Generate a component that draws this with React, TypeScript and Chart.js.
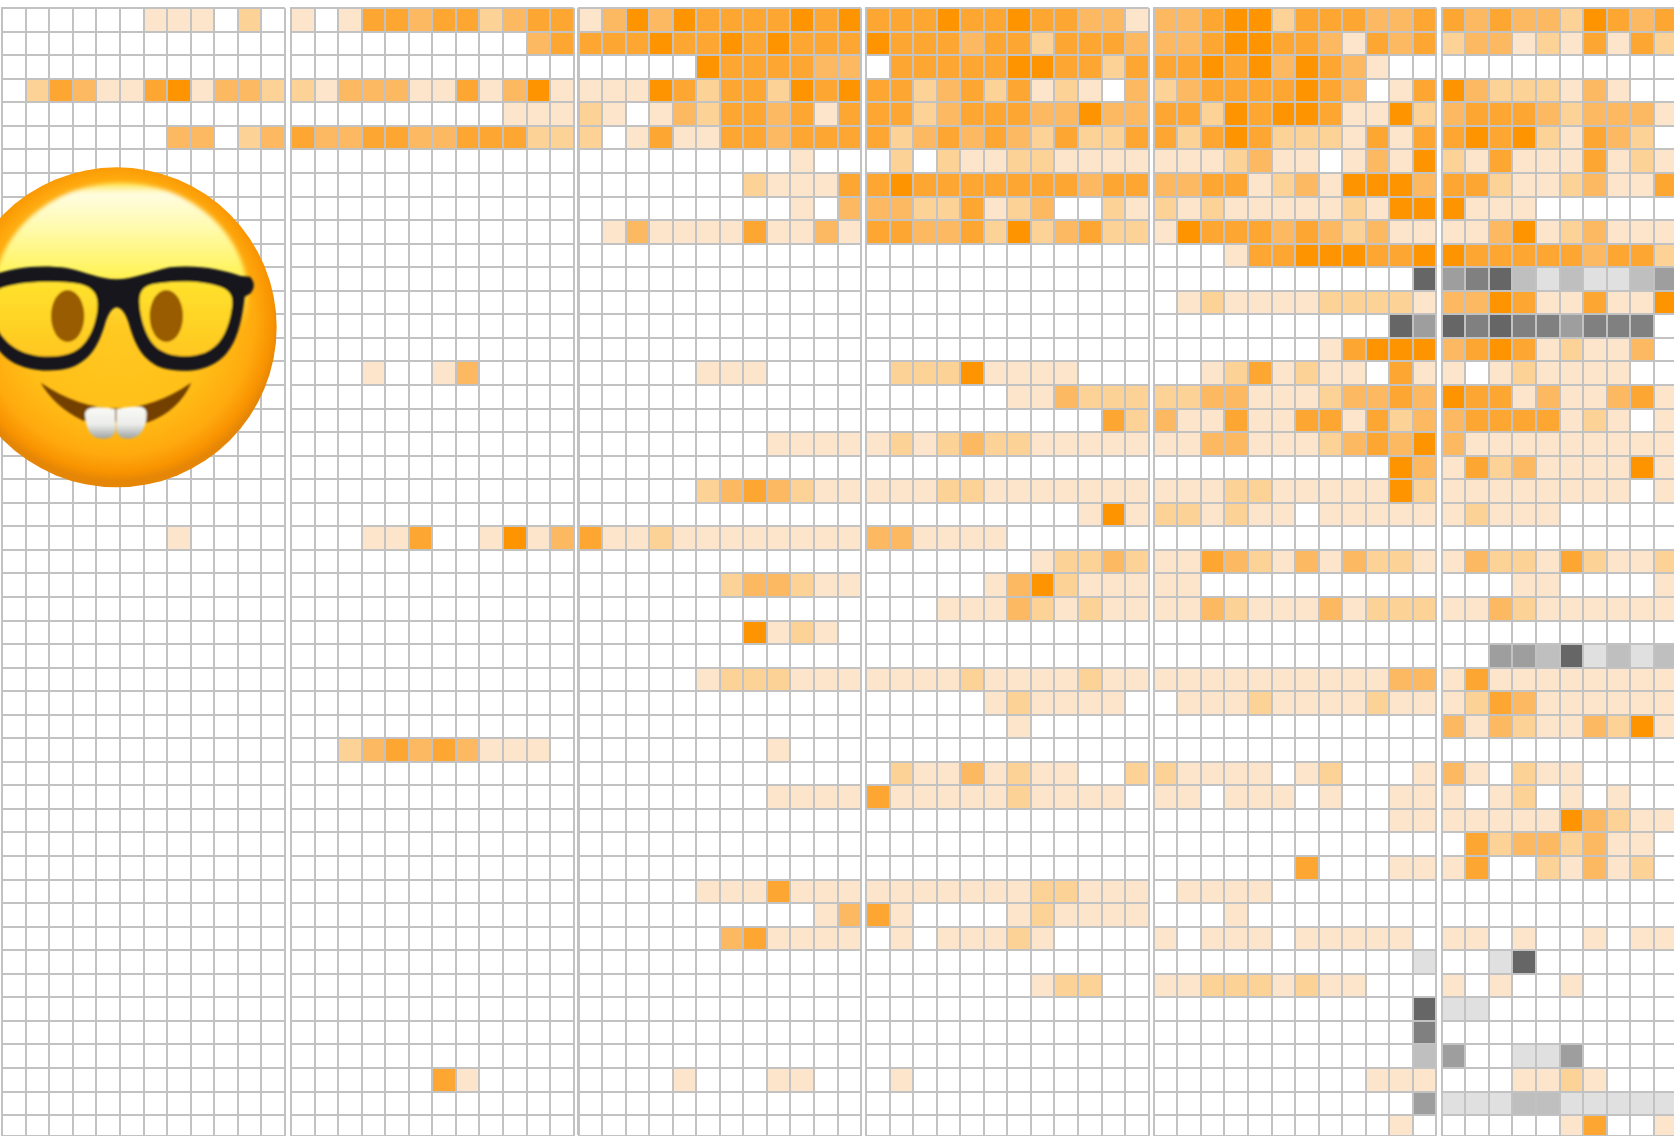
import React, { useEffect, useRef } from "react";
import { Chart, registerables } from "chart.js";

Chart.register(...registerables);

const months = ["M1", "M2", "M3", "M4", "M5", "M6", "M7", "M8", "M9", "M10", "M11", "M12"];

const panel1 = [
  "......111.2.", "............", "............", ".24311451332", "............", ".......33.23",
  "............", "............", "............", "............", "............", "............",
  "............", "............", "............", "............", "............", "............",
  "............", "............", "............", "............", ".......1....",
];
const panel2 = [
  "1.1443442344", "..........34", "............", "213331141351", ".........111", "433443344422",
  "............", "............", "............", "............", "............", "............",
  "............", "............", "............", "...1..13....", "............", "............",
  "............", "............", "............", "............", "...114..1513", "............",
  "............", "............", "............", "............", "............", "............",
  "............", "..234343111.", "............", "............", "............", "............",
  "............", "............", "............", "............", "............", "............",
  "............", "............", "............", "......41....",
];
const panel3 = [
  "135354444545", "444544545444", ".....5444433", "111542442545", "21.132443414", "2.1411443444",
  ".........1..", ".......21114", ".........1.3", ".13111141131", "............", "............",
  "............", "............", "............", ".....111....", "............", "............",
  "........1111", "............", ".....2343211", "............", "411211111111", "............",
  "......233211", "............", ".......5121.", "............", ".....1222111", "............",
  "............", "........1...", "............", "........1111", "............", "............",
  "............", ".....1114111", "..........13", "......341111", "............", "............",
  "............", "............", "............", "....1...11..",
];
const panel4 = [
  "444544544331", "544434424443", ".44444554424", "4423424121.3", "442344433533", "423434324224",
  ".2.211221111", "454444444344", "33224123..21", "443342523422", "............", "............",
  "............", "............", "............", ".22251111...", "......113222", "..........42",
  "121232211111", "............", "111221111111", ".........151", "331111......", ".......12232",
  ".....1352111", "...111321211", "............", "............", "111121111211", ".....121111.",
  "......1.....", "............", ".21131211..2", "41111121111.", "............", "............",
  "............", "111111122111", "41....121111", ".1.11121....", "............", ".......122..",
  "............", "............", "............", ".1..........",
];
const panel5 = [
  "334552444334", "334554431434", "4454535431..", "234444543.14", "442545541152", "424542221414",
  "1112311.1315", "334412315553", "212111112155", "154443432311", "...144555445", "...........e",
  ".12111122221", "..........ec", ".......14555", "..1241211.41", "223311123343", "311411441423",
  "113311123435", "..........53", "111221111152", "221211.11111", "............", "114321313221",
  "11..........", "113211131222", "............", "............", "111111111133", ".11121111211",
  "............", "............", "21111.12...1", "11.111.1..11", "..........11", "............",
  "......4...11", ".1111.......", "...1........", "1.111.11111.", "...........a", "112221211...",
  "...........e", "...........d", "...........b", ".........111", "...........c", "..........1.",
];
const panel6 = [
  "4343325434..", "2331214142..", "............", "53222131....", "3444323331..", "454521432...",
  "2141114121..", "4421123114..", "5111........", "1135123111..", "5444443442..", "cdebabaabc..",
  "3354114115..", "ededdcddd...", "345412113...", "1.121111....", "5441311341..", "34444121.1..",
  "3111111111..", "1423111151..", "11111111.1..", "12111.......", "............", "1322142112..",
  "...11....1..", "1132111111..", "............", "..ccbeabab..", "1411111111..", "1243111111..",
  "3132113251..", "............", "31.211......", "1.12.1.1....", "1111153211..", ".42332311...",
  "14..21312...", "............", "............", "11.1..1.11..", "..ae........", "1.1..1......",
  "aa..........", "............", "c..aac......", "...1121.....", "aaabbaaaaa..", ".....14..1..",
];

const panels = [panel1, panel2, panel3, panel4, panel5, panel6];
const panelLefts = [2.2, 291, 578.5, 866, 1153.8, 1441.8];

const levelColors: Record<string, string> = {
  "1": "#fce5ca",
  "2": "#fcd296",
  "3": "#fdb962",
  "4": "#fea632",
  "5": "#fe9500",
  a: "#e0e0e0",
  b: "#bfbfbf",
  c: "#9e9e9e",
  d: "#808080",
  e: "#666666",
};

const CELL = 23.55;
const ROW = 23.55;
const TOP = 8.2;
const HEIGHT = 1136;
const GRID = "#c2c2c2";
const GRID_WIDTH = 2;

function Panel({ rows, left }: { rows: string[]; left: number }) {
  const ref = useRef<HTMLCanvasElement | null>(null);
  const canvasLeft = Math.floor(left) - 2;
  const padLeft = left - canvasLeft;
  const plotWidth = CELL * 12;
  const canvasWidth = Math.ceil(padLeft + plotWidth + 3);

  useEffect(() => {
    if (!ref.current) return;
    const datasets = rows.map((row, r) => {
      const cells = months.map((_, c) => row[c] ?? ".");
      return {
        label: `row ${r + 1}`,
        data: cells.map((s) => (s === "." ? null : [r, r + 1])),
        backgroundColor: cells.map((s) => levelColors[s] ?? "#ffffff"),
        borderWidth: 0,
        grouped: false,
        barPercentage: 1,
        categoryPercentage: 1,
      };
    });
    const chart = new Chart(ref.current, {
      type: "bar",
      data: { labels: months, datasets: datasets as any },
      options: {
        responsive: false,
        animation: false,
        events: [],
        layout: {
          padding: {
            left: padLeft,
            right: canvasWidth - padLeft - plotWidth,
            top: TOP,
            bottom: 0,
          },
        },
        plugins: { legend: { display: false }, tooltip: { enabled: false }, title: { display: false } },
        scales: {
          x: {
            type: "category",
            offset: true,
            ticks: { display: false },
            grid: { offset: true, color: GRID, lineWidth: GRID_WIDTH, drawTicks: false, z: 1 },
            border: { display: true, color: GRID, width: GRID_WIDTH, z: 1 },
          },
          y: {
            type: "linear",
            reverse: true,
            min: 0,
            max: (HEIGHT - TOP) / ROW,
            afterBuildTicks: (axis: any) => {
              axis.ticks = Array.from({ length: 48 }, (_, value) => ({ value }));
            },
            ticks: { display: false, autoSkip: false },
            grid: { color: GRID, lineWidth: GRID_WIDTH, drawTicks: false, z: 1 },
            border: { display: true, color: GRID, width: GRID_WIDTH, z: 1 },
          },
        },
      } as any,
    });
    return () => chart.destroy();
  }, [rows, padLeft, canvasWidth, plotWidth]);

  return (
    <canvas
      ref={ref}
      width={canvasWidth}
      height={HEIGHT}
      style={{ position: "absolute", left: canvasLeft, top: 0, width: canvasWidth, height: HEIGHT }}
    />
  );
}

function NerdFace() {
  return (
    <svg
      viewBox="0 0 900 1050"
      width={300}
      height={350}
      style={{ position: "absolute", left: 0, top: 150, overflow: "visible", pointerEvents: "none" }}
    >
      <defs>
        <radialGradient id="face" gradientUnits="userSpaceOnUse" cx="350" cy="500" r="492">
          <stop offset="0" stopColor="#ffcb24" />
          <stop offset="0.6" stopColor="#ffbf18" />
          <stop offset="0.84" stopColor="#ffaa0e" />
          <stop offset="0.95" stopColor="#f89300" />
          <stop offset="1" stopColor="#e58606" />
        </radialGradient>
        <linearGradient id="shine" gradientUnits="userSpaceOnUse" x1="0" y1="95" x2="0" y2="540">
          <stop offset="0" stopColor="#ffe234" />
          <stop offset="0.08" stopColor="#fffde2" />
          <stop offset="0.3" stopColor="#fffbb0" />
          <stop offset="0.62" stopColor="#fff35a" />
          <stop offset="1" stopColor="#ffd82e" stopOpacity="0" />
        </linearGradient>
        <linearGradient id="lens" gradientUnits="userSpaceOnUse" x1="0" y1="395" x2="0" y2="640">
          <stop offset="0" stopColor="#ffe22e" />
          <stop offset="1" stopColor="#ffc41e" />
        </linearGradient>
        <linearGradient id="tooth" x1="0" y1="0" x2="0" y2="1">
          <stop offset="0" stopColor="#fafaf6" />
          <stop offset="0.55" stopColor="#ecedea" />
          <stop offset="1" stopColor="#9ea3a3" />
        </linearGradient>
        <filter id="soft" x="-10%" y="-10%" width="120%" height="120%">
          <feGaussianBlur stdDeviation="6" />
        </filter>
        <filter id="edge" x="-5%" y="-5%" width="110%" height="110%">
          <feGaussianBlur stdDeviation="2.5" />
        </filter>
        <clipPath id="faceClip">
          <circle cx="350" cy="532" r="480" />
        </clipPath>
      </defs>
      <circle cx="350" cy="532" r="480" fill="url(#face)" />
      <ellipse cx="362" cy="450" rx="384" ry="352" fill="url(#shine)" filter="url(#soft)" />
      <g filter="url(#edge)" clipPath="url(#faceClip)">
        <path
          d="M-20 375 C40 352 120 343 200 354 C255 365 300 388 350 388 C400 388 450 365 510 352 C590 343 665 358 722 378 L750 380 Q772 405 752 430 L734 440 C726 510 712 580 670 620 C625 665 545 670 490 655 C430 635 405 585 388 525 C380 498 368 474 350 472 C333 474 322 498 314 525 C296 585 270 635 205 655 C140 670 60 660 15 620 C-10 598 -25 570 -35 550 Z"
          fill="#15171a"
        />
        <path
          d="M-5 418 C45 394 170 390 240 402 C280 412 298 435 292 480 C285 535 262 585 222 605 C165 630 85 622 40 590 C10 568 -10 540 -12 515 Z"
          fill="url(#lens)"
        />
        <path
          d="M460 402 C530 390 615 392 665 412 C700 428 702 450 692 495 C680 550 658 590 615 608 C560 628 495 620 462 585 C435 555 420 500 418 455 C418 425 430 408 460 402 Z"
          fill="url(#lens)"
        />
        <ellipse cx="203" cy="498" rx="50" ry="78" fill="#9a5c00" />
        <ellipse cx="499" cy="498" rx="50" ry="78" fill="#9a5c00" />
        <path
          d="M122 698 Q350 852 574 698 Q535 785 440 818 L250 812 Q165 772 122 698 Z"
          fill="#734000"
        />
        <path
          d="M255 790 Q258 772 290 772 Q320 770 345 778 L347 835 Q345 866 310 866 Q280 866 268 845 Q255 820 255 790 Z"
          fill="url(#tooth)"
        />
        <path
          d="M349 778 Q385 768 420 770 Q438 772 440 790 Q440 825 425 845 Q410 866 382 866 Q350 866 349 835 Z"
          fill="url(#tooth)"
        />
      </g>
    </svg>
  );
}

export default function App() {
  return (
    <div
      style={{
        position: "fixed",
        left: 0,
        top: 0,
        width: 1674,
        height: HEIGHT,
        overflow: "hidden",
        background: "#ffffff",
      }}
    >
      {panels.map((rows, i) => (
        <Panel key={i} rows={rows} left={panelLefts[i]} />
      ))}
      <NerdFace />
    </div>
  );
}
